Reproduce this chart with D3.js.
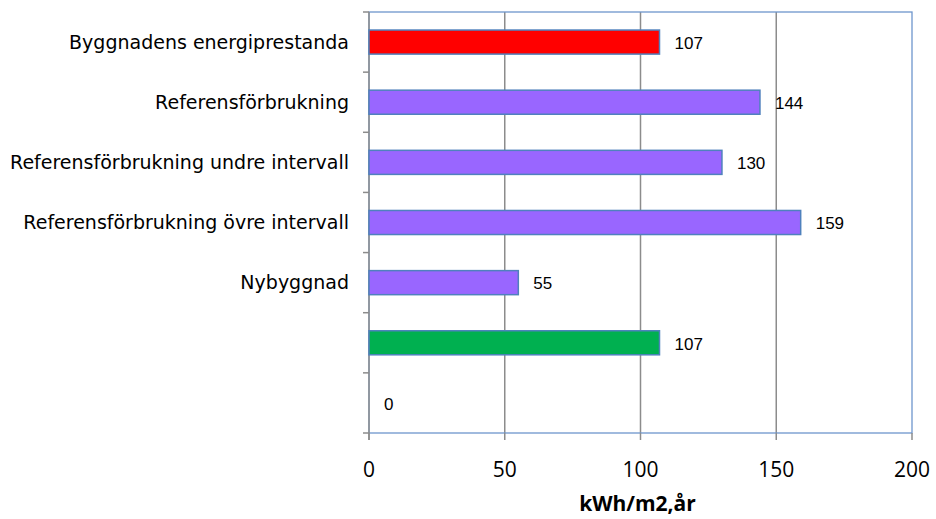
<!DOCTYPE html>
<html><head><meta charset="utf-8">
<script src="https://cdn.jsdelivr.net/npm/d3@7"></script>
<style>html,body{margin:0;padding:0;background:#fff;}</style>
</head><body>
<svg id="c" width="936" height="519"></svg>
<script>
const categories = ["Byggnadens energiprestanda","Referensförbrukning","Referensförbrukning undre intervall","Referensförbrukning övre intervall","Nybyggnad","",""];
const values = [107,144,130,159,55,107,0];
const barColors = ["#FF0000","#9966FF","#9966FF","#9966FF","#9966FF","#00B050","#9966FF"];
const xTicks = [0,50,100,150,200];
const axisTitle = "kWh/m2,år";

const svg = d3.select("#c");
const L=369, R=912, T=12, B=433;
const x = d3.scaleLinear().domain([0,200]).range([L,R]);
const y = d3.scaleBand().domain(d3.range(categories.length)).range([T,B]).paddingInner(0.6).paddingOuter(0.3);
const yb = d3.scaleBand().domain(d3.range(categories.length)).range([T,B]);

// gridlines
svg.append("g").selectAll("line").data(xTicks.slice(1,-1)).join("line")
  .attr("x1",d=>x(d)).attr("x2",d=>x(d)).attr("y1",T).attr("y2",B)
  .attr("stroke","#8c8c8c").attr("stroke-width",1.5);

// plot border
svg.append("rect").attr("x",L).attr("y",T).attr("width",R-L).attr("height",B-T)
  .attr("fill","none").attr("stroke","#6e96cc").attr("stroke-width",1.3);

// bottom axis ticks
svg.append("g").selectAll("line").data(xTicks).join("line")
  .attr("x1",d=>x(d)).attr("x2",d=>x(d)).attr("y1",B).attr("y2",B+7)
  .attr("stroke","#8c8c8c").attr("stroke-width",1.5);
svg.append("line").attr("x1",L-6).attr("x2",L).attr("y1",B).attr("y2",B).attr("stroke","#8c8c8c").attr("stroke-width",1.5);

// left axis
svg.append("line").attr("x1",L).attr("x2",L).attr("y1",T).attr("y2",B+7).attr("stroke","#8c8c8c").attr("stroke-width",1.5);
const bounds = d3.range(categories.length+1).map(i=>T+i*yb.step());
svg.append("g").selectAll("line").data(bounds.slice(0,-1)).join("line")
  .attr("x1",L-6).attr("x2",L).attr("y1",d=>d).attr("y2",d=>d)
  .attr("stroke","#8c8c8c").attr("stroke-width",1.5);

// bars
svg.append("g").selectAll("rect").data(values).join("rect")
  .attr("x",x(0)).attr("y",(d,i)=>y(i)).attr("width",d=>x(d)-x(0)).attr("height",y.bandwidth())
  .attr("fill",(d,i)=>barColors[i]).attr("stroke",(d)=>d>0?"#4F81BD":"none").attr("stroke-width",1.5);

// value labels
svg.append("g").selectAll("text").data(values).join("text")
  .attr("x",d=>x(d)+15).attr("y",(d,i)=>y(i)+y.bandwidth()/2).attr("dy","0.4em")
  .attr("font-family","Liberation Sans, Arial, sans-serif").attr("font-size",17).attr("fill","#000")
  .text(d=>d);

// category labels
svg.append("g").selectAll("text").data(categories).join("text")
  .attr("x",349).attr("y",(d,i)=>yb(i)+yb.bandwidth()/2).attr("dy","0.36em")
  .attr("text-anchor","end")
  .attr("font-family","DejaVu Sans, Tahoma, sans-serif").attr("font-size",19).attr("fill","#000")
  .text(d=>d);

// x tick labels
svg.append("g").selectAll("text").data(xTicks).join("text")
  .attr("x",d=>x(d)).attr("y",477).attr("text-anchor","middle")
  .attr("font-family","Open Sans, sans-serif").attr("font-size",21).attr("fill","#000")
  .text(d=>d);

svg.append("text").attr("x",(L+R)/2-3).attr("y",511).attr("text-anchor","middle")
  .attr("font-family","Open Sans, sans-serif").attr("font-weight","bold").attr("font-size",21)
  .text(axisTitle);
</script>
</body></html>
